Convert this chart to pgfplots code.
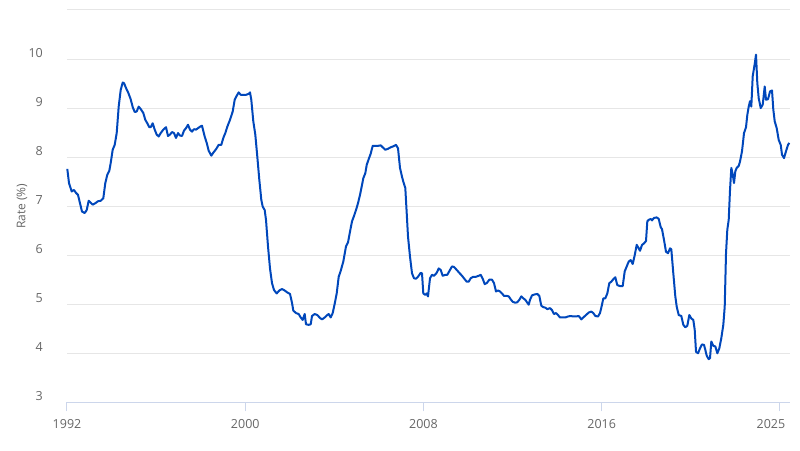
\documentclass[border=0pt]{standalone}
\usepackage{pgfplots}
\pgfplotsset{compat=1.18}
\usepackage{fontspec}
\setmainfont{Open Sans}
\definecolor{lineblue}{HTML}{0047BB}
\definecolor{gridgray}{HTML}{E6E6E6}
\definecolor{axisgray}{HTML}{CCD6EB}
\definecolor{textgray}{HTML}{666666}
\begin{document}
\begin{tikzpicture}
\path[use as bounding box] (-67pt,-47.7pt) rectangle (733pt,402.3pt);
\begin{axis}[
  at={(0,0)}, anchor=south west,
  scale only axis,
  width=723pt, height=392.3pt,
  xmin=1992, xmax=2024.45,
  ymin=3, ymax=11,
  ytick={3,4,5,6,7,8,9,10,11},
  yticklabels={3,4,5,6,7,8,9,10,{}},
  xtick={1992,2000,2008,2016},
  xticklabels={1992,2000,2008,2016},
  extra x ticks={2024},
  extra x tick labels={2025},
  extra x tick style={xmajorgrids=false, xticklabel style={xshift=-9pt}},
  ymajorgrids=true, xmajorgrids=false,
  major grid style={draw=gridgray, line width=1pt},
  axis x line*=bottom, axis y line*=left,
  x axis line style={draw=axisgray, line width=1pt, -},
  y axis line style={draw=none},
  tick align=outside,
  major tick length=9pt,
  xtick style={draw=axisgray, line width=1pt},
  ytick style={draw=none},
  /pgf/number format/assume math mode=true,
  tick label style={font=\fontsize{12.5pt}{15pt}\selectfont, text=textgray},
  yticklabel style={anchor=base east, inner sep=0pt, xshift=-15pt, yshift=2pt},
  xticklabel style={anchor=north, inner sep=0pt, yshift=-8pt},
  ylabel={Rate (\%)},
  every axis y label/.style={at={(axis description cs:-0.0622,0.5)}, rotate=90, anchor=center, font=\fontsize{12pt}{14pt}\selectfont, text=textgray},
  clip=false,
]
\addplot[draw=lineblue, line width=2pt, line join=round, mark=none]
  table[x expr={1992+(\thisrow{px}-67)/22.28}, y=v] {
px v
67.3 7.76
69 7.47
71.7 7.30
74 7.33
76 7.27
78 7.23
80 7.06
82 6.89
84.7 6.86
86.7 6.92
88.7 7.11
90.7 7.07
92.7 7.03
95.3 7.06
98 7.10
100.7 7.11
103.3 7.16
105.3 7.47
107.3 7.64
109.3 7.72
110.7 7.88
112.7 8.15
114.7 8.25
116.7 8.49
118.7 9.03
120.7 9.37
122.7 9.52
124 9.51
126 9.41
128.3 9.31
130.7 9.18
132.7 9.02
134.7 8.92
136.7 8.93
138.7 9.03
140.7 8.98
143.3 8.90
145.3 8.76
147.3 8.69
149.3 8.61
150.7 8.61
152.7 8.69
154.7 8.56
156.7 8.46
158.7 8.42
160.7 8.49
163.3 8.56
166 8.61
168 8.43
170 8.46
172 8.51
174 8.49
176 8.39
178 8.49
180 8.44
182 8.43
184 8.54
186 8.59
188 8.66
190 8.56
192 8.52
194 8.57
196 8.56
198 8.59
200 8.62
202 8.64
204.7 8.42
206.7 8.29
208.7 8.13
211.3 8.03
213.3 8.09
216 8.16
218.7 8.25
221.3 8.25
223.3 8.39
225.3 8.49
227.3 8.62
230 8.76
232.7 8.93
234.7 9.17
236.7 9.25
238.7 9.32
240.7 9.27
243.3 9.27
246 9.27
248.7 9.29
250 9.32
251.3 9.17
253.3 8.73
255.3 8.46
257.3 8.01
259.3 7.54
261.3 7.13
262.7 6.99
264.7 6.92
266 6.72
268 6.18
270 5.73
272 5.43
274 5.29
276.7 5.22
279.3 5.28
282 5.31
284.7 5.28
287.3 5.24
290 5.21
292 5.03
293.3 4.87
296 4.82
298.7 4.80
300.7 4.73
302.7 4.68
304.7 4.80
306 4.59
308.7 4.58
310.7 4.59
312 4.76
314.7 4.80
317.3 4.78
320 4.72
322 4.69
324.7 4.73
327.3 4.78
328.7 4.80
330.7 4.73
332.7 4.82
334.7 5.01
336.7 5.22
338.7 5.56
340.7 5.68
343.3 5.87
346 6.18
348 6.26
350 6.48
352 6.69
354 6.80
356 6.92
358 7.06
360 7.23
362 7.43
363.3 7.57
365.3 7.67
366.7 7.84
368.7 7.96
370.7 8.07
372.7 8.23
375.3 8.23
378 8.23
380.7 8.24
382.7 8.20
385.3 8.15
388 8.17
390.7 8.20
393.3 8.22
396 8.25
398 8.18
400 7.78
402 7.60
403.3 7.50
405.3 7.37
406.7 6.86
408 6.38
410 5.97
412 5.63
414 5.53
416 5.52
418 5.56
420.7 5.64
422 5.63
423.3 5.22
425.3 5.19
426.7 5.22
428 5.16
430 5.53
432 5.60
434 5.58
436.7 5.64
438.7 5.73
440.7 5.70
442.7 5.58
445.3 5.60
447.3 5.60
450 5.70
452 5.77
454 5.76
456.7 5.70
459.3 5.64
462 5.58
464.7 5.51
466.7 5.46
468.7 5.46
470.7 5.53
473.3 5.56
476 5.56
478.7 5.58
480.7 5.60
482.7 5.52
484.7 5.41
486.7 5.43
489.3 5.50
492 5.50
494 5.43
496 5.26
498 5.28
500 5.26
502 5.22
504 5.17
506.7 5.17
508.7 5.16
510.7 5.10
512.7 5.05
515.3 5.03
517.3 5.04
519.3 5.09
521.3 5.16
523.3 5.12
525.3 5.09
527.3 5.03
528.7 4.99
530 5.09
532 5.18
534.7 5.20
537.3 5.21
539.3 5.17
541.3 4.97
543.3 4.94
545.3 4.93
547.3 4.90
550 4.92
552 4.88
554 4.80
556 4.82
558 4.78
560 4.73
562.7 4.73
565.3 4.73
568 4.75
570.7 4.76
573.3 4.75
576 4.75
578.7 4.76
580 4.73
581.3 4.69
583.3 4.73
586 4.78
588.7 4.83
591.3 4.85
593.3 4.82
595.3 4.76
598 4.75
600 4.82
602 4.99
603.3 5.12
605.3 5.12
607.3 5.22
609.3 5.43
611.3 5.46
613.3 5.51
615.3 5.55
617.3 5.39
620 5.37
622.7 5.37
624.7 5.67
626.7 5.77
628.7 5.87
630.7 5.90
632.7 5.82
634.7 6.00
636.7 6.21
638.7 6.14
640 6.09
642 6.21
644 6.24
646 6.29
647.3 6.69
648.7 6.72
650.7 6.74
652 6.71
654 6.76
656.7 6.77
658.7 6.74
660.7 6.57
662 6.53
664 6.31
666 6.07
668 6.04
670 6.14
671.3 6.12
673.3 5.63
675.3 5.16
676.7 4.95
678.7 4.78
681.3 4.76
683.3 4.58
685.3 4.53
687.3 4.56
689.3 4.78
691.3 4.71
693.3 4.68
694.7 4.48
696 4.03
698 4.00
700 4.10
702 4.18
704 4.17
705.3 4.07
706.7 3.95
708.7 3.88
710 3.90
711.3 4.24
713.3 4.15
715.3 4.14
717.3 4.00
719.3 4.10
721.3 4.31
723.3 4.58
724.7 4.95
726 6.04
727.3 6.52
728.7 6.72
730 7.33
731.3 7.78
732.7 7.65
734 7.47
735.3 7.71
736.7 7.78
738.7 7.82
740 7.91
742 8.12
744 8.49
746 8.61
747.3 8.86
748.7 9.03
750 9.14
751.3 9.03
752.7 9.65
754.7 9.90
756 10.09
757.3 9.51
758.7 9.20
760.7 9.00
762.7 9.07
764.7 9.44
766 9.17
768 9.18
770 9.34
772 9.36
773.3 8.97
774.7 8.73
776.7 8.59
778.7 8.35
780.7 8.25
782 8.05
784 7.98
786 8.12
788 8.25
789.3 8.29
};
\end{axis}
\end{tikzpicture}
\end{document}
